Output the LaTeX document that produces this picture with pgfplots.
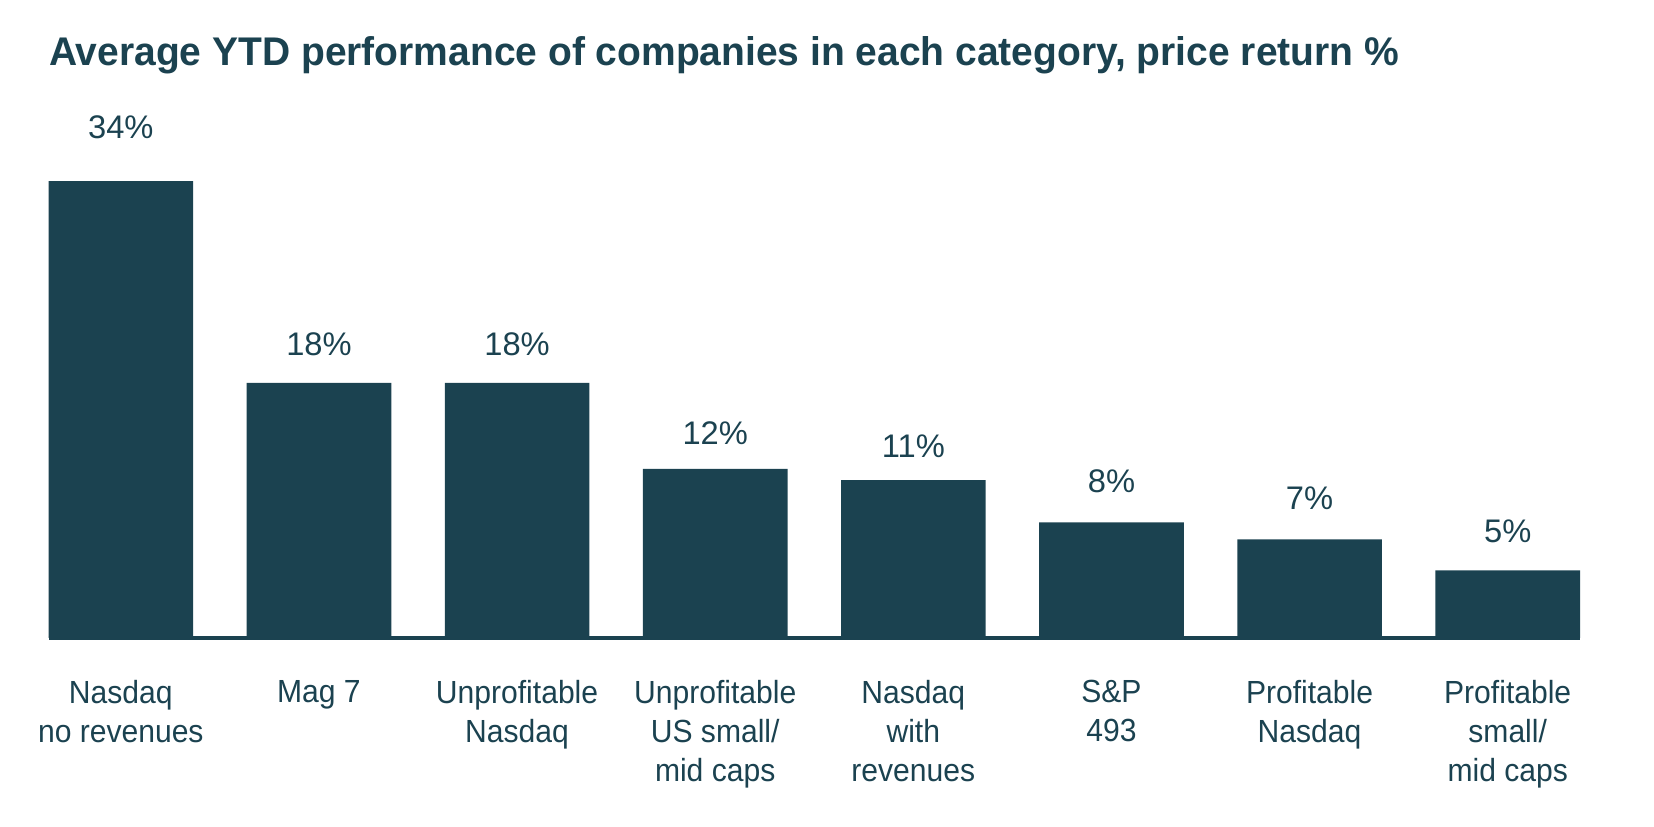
\documentclass[border=0pt]{standalone}
\usepackage{graphicx}
\usepackage{pgfplots}
\pgfplotsset{compat=1.18}
\usepackage{pgfplotstable}
\usepackage{fontspec}
\setmainfont{Liberation Sans}
\newfontfamily\ticklabfont[FakeStretch=0.94]{Liberation Sans}
\definecolor{barteal}{RGB}{27,66,80}

\pgfplotstableread{
x y ly lab
0 32.4 35.4 34
1 18.1 20.0 18
2 18.1 20.0 18
3 12.0 13.7 12
4 11.2 12.8 11
5 8.2 10.35 8
6 7.0 9.1 7
7 4.8 6.8 5
}\datatable

\begin{document}
\begin{tikzpicture}
\path[use as bounding box] (0,0) rectangle (496.2pt,248.1pt);
\node[anchor=base west, inner sep=0pt, text=barteal, font=\bfseries\fontsize{12}{14}\selectfont] at (14.55pt,228.45pt)
  {\resizebox{405pt}{\height}{Average YTD performance of companies in each category, price return \%}};
\begin{axis}[
  at={(14.55pt,56.7pt)}, anchor=south west,
  scale only axis,
  width=459.45pt, height=169.2pt,
  xmin=-0.365, xmax=7.365,
  ymin=0, ymax=40,
  axis y line=none,
  axis x line*=bottom,
  x axis line style={-, barteal, line width=1pt},
  xtick={0,...,7},
  xtick style={draw=none},
  ytick=\empty,
  xticklabels={{Nasdaq\\no revenues},{Mag 7},{Unprofitable\\Nasdaq},{Unprofitable\\US small/\\mid caps},{Nasdaq\\with\\revenues},{S\&P\\493},{Profitable\\Nasdaq},{Profitable\\small/\\mid caps}},
  xticklabel style={align=center, anchor=north, inner sep=0pt, yshift=-12.6pt, text=barteal, font=\ticklabfont\fontsize{9.6}{11.7}\selectfont},
  clip=false,
]
\addplot[ybar, bar width=0.73, fill=barteal, draw=none] table[x=x, y=y] {\datatable};
\addplot[draw=none, mark=none, nodes near coords={\pgfplotspointmeta\%}, point meta=explicit symbolic,
  nodes near coords style={anchor=base, inner sep=0pt, text=barteal, font=\fontsize{9.8}{11.7}\selectfont}]
  table[x=x, y=ly, meta=lab] {\datatable};
\end{axis}
\end{tikzpicture}
\end{document}
